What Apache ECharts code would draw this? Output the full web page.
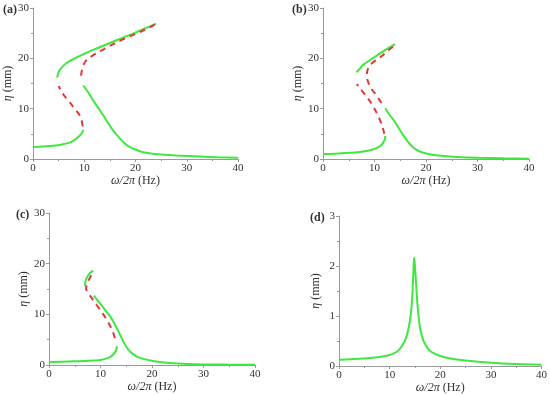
<!DOCTYPE html>
<html><head><meta charset="utf-8">
<script src="https://cdn.jsdelivr.net/npm/echarts@6/dist/echarts.min.js"></script>
<style>html,body{margin:0;padding:0;background:#fff}#c{width:550px;height:395px}</style>
</head><body><div id="c"></div>
<script>
// ---- data (x = ω/2π in Hz, y = η) ----
const xTicks = [0, 10, 20, 30, 40];
const panelLabels = ['(a)', '(b)', '(c)', '(d)'];

const aLowLeft = [[0,2.4],[2,2.5],[4,2.65],[5.5,2.85],[7,3.2],[8,3.7],[9,4.5],[9.6,5.2],[9.8,5.8]];
const aRedLow = [[9.7,6.5],[9.5,7.6],[9.1,8.7],[8.2,9.9],[6.9,11.6],[5.8,13.0],[5.0,14.5]];
const aGreenUp = [[4.7,16.2],[5.1,17.5],[6,18.6],[7.2,19.5],[9.8,20.8],[13,22.2],[16.3,23.6],[19.5,24.9],[22,26],[24,26.9]];
const aRedUp = [[23.8,26.7],[20.8,25.2],[17.6,23.8],[14.3,22.1],[11.7,20.6],[10.3,19.5],[9.7,18.2],[9.4,16.8],[9.3,15.6]];
const aGreenRight = [[9.8,14.6],[10.8,13.2],[11.7,11.7],[12.7,10.2],[13.7,8.7],[14.6,7.2],[15.6,5.7],[16.6,4.5],[17.6,3.4],[18.5,2.6],[19.5,2.1],[21,1.5],[22.7,1.15],[25,0.9],[28,0.7],[32.5,0.5],[36,0.35],[40,0.25]];

const bLowLeft = [[0,1.0],[3,1.1],[6.8,1.35],[9,1.7],[10,2.0],[11,2.5],[11.6,3.1],[12,3.9],[12.1,4.6]];
const bRedLow = [[11.9,5.0],[11.6,6.2],[11.2,7.4],[10.5,9.0],[9.6,10.7],[8.6,12.2],[7.6,13.5],[6.8,14.5],[6.6,14.9]];
const bGreenUp = [[6.5,17.2],[7.2,18.0],[7.8,18.7],[9.8,20.1],[11.7,21.4],[14,22.8]];
const bRedUp = [[13.6,22.3],[12.8,21.7],[11.1,20.2],[9.5,19.0],[8.8,18.1],[8.5,16.6],[8.8,15.2],[9.5,13.8],[10.4,12.6],[11.3,11.2],[11.9,10.3]];
const bGreenRight = [[12.1,10.1],[12.9,8.8],[13.8,7.6],[14.6,6.3],[15.4,5.0],[16.3,3.7],[17.2,2.6],[18.2,1.8],[19.3,1.3],[21,0.9],[23,0.65],[26,0.42],[30,0.25],[35,0.13],[40,0.07]];

const cLowLeft = [[0,0.6],[4,0.7],[7,0.8],[10,1.0],[11.5,1.4],[12.3,1.9],[12.9,2.6],[13.2,3.7]];
const cGreenUp = [[7.0,15.6],[7.1,16.6],[7.5,17.5],[8.0,18.2],[8.6,18.6]];
const cRed = [[8.2,17.7],[7.8,16.9],[7.4,16.0],[7.2,15.1],[7.6,14.2],[8.4,13.1],[9.3,11.8],[10.4,10.2],[11.5,8.4],[12.3,6.8],[12.8,5.3]];
const cGreenRight = [[8.7,13.7],[9.8,12.3],[11.1,10.6],[12,9.4],[12.8,8.0],[13.6,6.4],[14.4,4.7],[15.2,3.3],[16,2.4],[17.6,1.4],[20.2,0.8],[22.8,0.45],[26,0.25],[30,0.12],[35,0.07],[40,0.05]];

const dCurve = [[0,0.125],[5,0.15],[8,0.18],[10,0.22],[11.5,0.29],[12,0.34],[13,0.5],[13.5,0.65],[14,0.9],[14.3,1.15],[14.5,1.43],[14.7,1.9],[14.85,2.17],[15.0,2.0],[15.2,1.7],[15.5,1.23],[16,0.77],[16.5,0.56],[17,0.44],[18,0.3],[20,0.2],[22,0.15],[25,0.11],[30,0.066],[35,0.04],[40,0.026]];

// ---- styling ----
const FONT = 'Liberation Serif';
const GREEN = '#3ee83e';
const RED = '#e0393a';
const AXC = '#9a9a9a';
const TXT = '#333333';

const grids = [
  {left: 33, top: 8, width: 205, height: 151},
  {left: 323, top: 8, width: 206, height: 151},
  {left: 49, top: 213, width: 206, height: 152},
  {left: 339, top: 216, width: 204, height: 151}
];
const yMax = [30, 30, 30, 3];
const yInt = [10, 10, 10, 1];

function xAxis(i) {
  return {
    type: 'value', gridIndex: i, min: xTicks[0], max: xTicks[xTicks.length-1], interval: 10,
    name: '{i|ω/2π} (Hz)', nameLocation: 'middle', nameGap: 16,
    nameTextStyle: {fontFamily: FONT, fontSize: 12, color: TXT, rich: {i: {fontFamily: FONT, fontStyle: 'italic', fontSize: 12, color: TXT}}},
    axisLine: {show: true, lineStyle: {color: AXC, width: 1}},
    axisTick: {show: true, length: 3, lineStyle: {color: AXC}},
    minorTick: {show: true, splitNumber: 2, length: 2, lineStyle: {color: AXC}},
    axisLabel: {fontFamily: FONT, fontSize: 11, color: TXT, margin: 4},
    splitLine: {show: false}
  };
}
function yAxis(i) {
  return {
    type: 'value', gridIndex: i, min: 0, max: yMax[i], interval: yInt[i],
    name: '{i|η} (mm)', nameLocation: 'middle', nameGap: 17, nameRotate: 90,
    nameTextStyle: {fontFamily: FONT, fontSize: 12, color: TXT, rich: {i: {fontFamily: FONT, fontStyle: 'italic', fontSize: 12, color: TXT}}},
    axisLine: {show: true, lineStyle: {color: AXC, width: 1}},
    axisTick: {show: true, length: 3, lineStyle: {color: AXC}},
    minorTick: {show: true, splitNumber: 2, length: 2, lineStyle: {color: AXC}},
    axisLabel: {fontFamily: FONT, fontSize: 11, color: TXT, margin: 4},
    splitLine: {show: false}
  };
}
function line(i, data, dashed) {
  return {
    type: 'line', xAxisIndex: i, yAxisIndex: i, data: data, smooth: 0.35,
    showSymbol: false, silent: true, animation: false,
    lineStyle: dashed ? {color: RED, width: 2, type: [6, 5]} : {color: GREEN, width: 2}
  };
}

const series = [
  line(0, aLowLeft), line(0, aRedLow, true), line(0, aGreenUp), line(0, aRedUp, true), line(0, aGreenRight),
  line(1, bLowLeft), line(1, bRedLow, true), line(1, bGreenUp), line(1, bRedUp, true), line(1, bGreenRight),
  line(2, cLowLeft), line(2, cGreenUp), line(2, cRed, true), line(2, cGreenRight),
  line(3, dCurve)
];

const labelPos = [[3, 4], [292, 4], [16, 209], [310, 212]];
const graphic = panelLabels.map((t, k) => ({
  type: 'text', left: labelPos[k][0], top: labelPos[k][1],
  style: {text: t, fontFamily: FONT, fontSize: 12, fontWeight: 'bold', fill: TXT}
}));

const chart = echarts.init(document.getElementById('c'), null, {renderer: 'canvas'});
chart.setOption({
  animation: false,
  backgroundColor: '#ffffff',
  grid: grids,
  xAxis: [0,1,2,3].map(xAxis),
  yAxis: [0,1,2,3].map(yAxis),
  series: series,
  graphic: graphic
});
</script></body></html>
